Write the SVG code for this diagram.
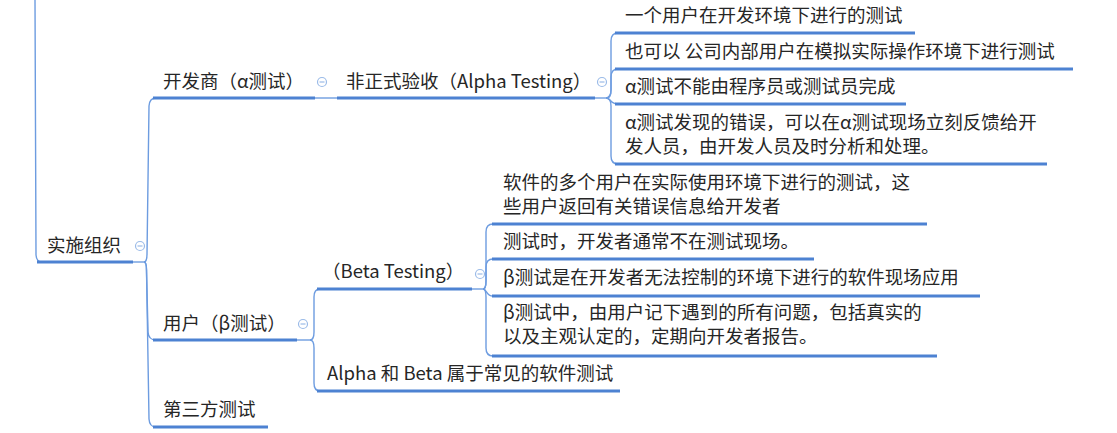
<svg xmlns="http://www.w3.org/2000/svg" width="1117" height="433" viewBox="0 0 1117 433">
<style>
text{font-family:"Microsoft YaHei","Noto Sans CJK SC","Noto Sans",sans-serif;font-size:18.5px;fill:#262626}
.ul{stroke:#4d82d2;stroke-width:3;fill:none;stroke-linecap:butt}
.cn{stroke:#6d9ce0;stroke-width:1.4;fill:none}
.tg circle{fill:#fff;stroke:#9bbbe8;stroke-width:1.2}
.tg line{stroke:#9bbbe8;stroke-width:1.2}
</style>
<rect width="1117" height="433" fill="#fff"/>
<g id="connectors">
<path class="cn" d="M35,0 L36,255 Q36.5,262 42,262"/>
<path class="cn" d="M133,262 L144,262"/>
<path class="cn" d="M144,262 Q147,262 147,254 L149,106 Q149.5,98 156,98"/>
<path class="cn" d="M144,262 Q146.5,262 146.5,270 L148,332 Q148.5,340 156,340"/>
<path class="cn" d="M144,262 Q146.5,262 146.5,270 L149,419 Q149.5,427 156,427"/>
<path class="cn" d="M315,98 L337,98"/>
<path class="cn" d="M595,98 L606,98"/>
<path class="cn" d="M606,98 Q611,98 611,90 L611,41 Q611,33 618,33"/>
<path class="cn" d="M606,98 Q611,98 611,90 L611,77 Q611,69 618,69"/>
<path class="cn" d="M606,98 C611,98 610,104 618,104"/>
<path class="cn" d="M606,98 Q611,98 611,106 L611,156 Q611,164 618,164"/>
<path class="cn" d="M297,340 L310,340"/>
<path class="cn" d="M310,340 Q314,340 314,332 L314,297 Q314,289 320,289"/>
<path class="cn" d="M310,340 Q314,340 314,348 L314,383 Q314,391 320,391"/>
<path class="cn" d="M472,289 L483,289"/>
<path class="cn" d="M483,289 Q486,289 486,281 L486,232 Q486,224 493,224"/>
<path class="cn" d="M483,289 Q486,289 486,281 L486,267 Q486,259 493,259"/>
<path class="cn" d="M483,289 C487,289 486,296 493,296"/>
<path class="cn" d="M483,289 Q486,289 486,297 L486,348 Q486,356 493,356"/>
</g>
<g id="n-root">
<line class="ul" x1="37" y1="262" x2="133" y2="262"/>
<text x="47" y="252">实施组织</text>
<g class="tg"><circle cx="140" cy="246" r="4.5"/><line x1="137.5" y1="246" x2="142.5" y2="246"/></g>
</g>
<g id="n-dev">
<line class="ul" x1="153" y1="98" x2="315" y2="98"/>
<text x="163" y="88">开发商（α测试）</text>
<g class="tg"><circle cx="322" cy="82" r="4.5"/><line x1="319.5" y1="82" x2="324.5" y2="82"/></g>
</g>
<g id="n-alpha">
<line class="ul" x1="337" y1="98" x2="595" y2="98"/>
<text x="346" y="88">非正式验收（Alpha Testing）</text>
<g class="tg"><circle cx="602" cy="82" r="4.5"/><line x1="599.5" y1="82" x2="604.5" y2="82"/></g>
</g>
<g id="n-a1">
<line class="ul" x1="615" y1="33" x2="915" y2="33"/>
<text x="625" y="22">一个用户在开发环境下进行的测试</text>
</g>
<g id="n-a2">
<line class="ul" x1="615" y1="69" x2="1073" y2="69"/>
<text x="625" y="58">也可以 公司内部用户在模拟实际操作环境下进行测试</text>
</g>
<g id="n-a3">
<line class="ul" x1="615" y1="104" x2="906" y2="104"/>
<text x="625" y="93">α测试不能由程序员或测试员完成</text>
</g>
<g id="n-a4">
<line class="ul" x1="615" y1="164" x2="1047" y2="164"/>
<text x="625" y="129">α测试发现的错误，可以在α测试现场立刻反馈给开<tspan x="625" y="153">发人员，由开发人员及时分析和处理。</tspan></text>
</g>
<g id="n-user">
<line class="ul" x1="153" y1="340" x2="297" y2="340"/>
<text x="163" y="330">用户（β测试）</text>
<g class="tg"><circle cx="303" cy="324" r="4.5"/><line x1="300.5" y1="324" x2="305.5" y2="324"/></g>
</g>
<g id="n-beta">
<line class="ul" x1="317" y1="289" x2="472" y2="289"/>
<text x="322" y="278">（Beta Testing）</text>
<g class="tg"><circle cx="480" cy="274" r="4.5"/><line x1="477.5" y1="274" x2="482.5" y2="274"/></g>
</g>
<g id="n-b1">
<line class="ul" x1="492" y1="224" x2="927" y2="224"/>
<text x="503" y="189">软件的多个用户在实际使用环境下进行的测试，这<tspan x="503" y="213">些用户返回有关错误信息给开发者</tspan></text>
</g>
<g id="n-b2">
<line class="ul" x1="492" y1="259" x2="814" y2="259"/>
<text x="503" y="248">测试时，开发者通常不在测试现场。</text>
</g>
<g id="n-b3">
<line class="ul" x1="492" y1="296" x2="980" y2="296"/>
<text x="503" y="284">β测试是在开发者无法控制的环境下进行的软件现场应用</text>
</g>
<g id="n-b4">
<line class="ul" x1="492" y1="356" x2="937" y2="356"/>
<text x="503" y="319">β测试中，由用户记下遇到的所有问题，包括真实的<tspan x="503" y="343">以及主观认定的，定期向开发者报告。</tspan></text>
</g>
<g id="n-ab">
<line class="ul" x1="317" y1="391" x2="620" y2="391"/>
<text x="327" y="380">Alpha 和 Beta 属于常见的软件测试</text>
</g>
<g id="n-third">
<line class="ul" x1="153" y1="427" x2="268" y2="427"/>
<text x="163" y="416">第三方测试</text>
</g>
</svg>
